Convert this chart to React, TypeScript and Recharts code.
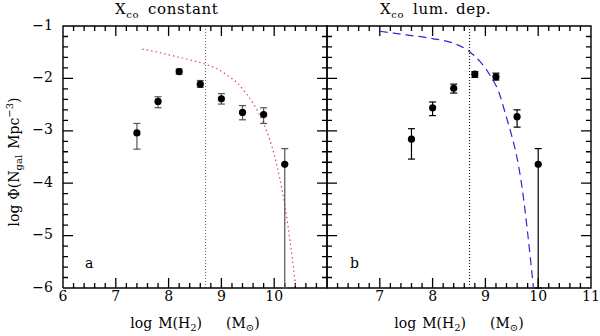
import React from "react";
import {
  ComposedChart,
  Scatter,
  Line,
  XAxis,
  YAxis,
  ErrorBar,
  ReferenceLine,
} from "recharts";

// panel a: X_CO constant
const massA = [7.4, 7.8, 8.2, 8.6, 9.0, 9.4, 9.8, 10.2];
const phiA = [-3.04, -2.44, -1.87, -2.11, -2.39, -2.65, -2.69, -3.64];
const phiHiA = [-2.86, -2.35, -1.82, -2.04, -2.29, -2.52, -2.56, -3.34];
const phiLoA = [-3.35, -2.56, -1.92, -2.17, -2.49, -2.79, -2.86, -6.0];

const fitMassA = [7.5, 7.75, 8.0, 8.25, 8.5, 8.7, 8.9, 9.1, 9.3, 9.5, 9.6, 9.7, 9.8, 9.9, 10.0, 10.1, 10.2, 10.3, 10.41];
const fitPhiA = [-1.44, -1.49, -1.55, -1.61, -1.67, -1.73, -1.81, -1.93, -2.09, -2.33, -2.47, -2.65, -2.86, -3.12, -3.45, -3.88, -4.42, -5.1, -6.0];

// panel b: X_CO luminosity dependent
const massB = [7.6, 8.0, 8.4, 8.8, 9.2, 9.6, 10.0];
const phiB = [-3.16, -2.56, -2.19, -1.92, -1.97, -2.73, -3.64];
const phiHiB = [-2.96, -2.45, -2.11, -1.87, -1.9, -2.6, -3.34];
const phiLoB = [-3.54, -2.71, -2.28, -1.98, -2.03, -2.93, -6.0];

const fitMassB = [7.0, 7.5, 8.0, 8.4, 8.7, 8.9, 9.1, 9.25, 9.4, 9.5, 9.6, 9.7, 9.8, 9.91];
const fitPhiB = [-1.1, -1.17, -1.24, -1.33, -1.49, -1.68, -1.96, -2.25, -2.75, -3.1, -3.52, -4.12, -4.95, -6.0];

const massLimit = 8.7;

const xTicks = [6.2, 6.4, 6.6, 6.8, 7, 7.2, 7.4, 7.6, 7.8, 8, 8.2, 8.4, 8.6, 8.8, 9, 9.2, 9.4, 9.6, 9.8, 10, 10.2, 10.4, 10.6, 10.8];
const yTicks = [-5.8, -5.6, -5.4, -5.2, -5, -4.8, -4.6, -4.4, -4.2, -4, -3.8, -3.6, -3.4, -3.2, -3, -2.8, -2.6, -2.4, -2.2, -2, -1.8, -1.6, -1.4, -1.2];
const xMajor = [6, 7, 8, 9, 10, 11];
const yMajor = [-6, -5, -4, -3, -2, -1];
const xLabelsA = [6, 7, 8, 9, 10];
const xLabelsB = [7, 8, 9, 10, 11];

const FONT = "'DejaVu Serif', serif";

const fmt = (v: number) => (v < 0 ? "\u2212" + Math.abs(v) : String(v));
const isMajor = (v: number) => Math.abs(v - Math.round(v)) < 1e-6;

const toPoints = (xs: number[], ys: number[], hi: number[], lo: number[]) =>
  xs.map((x, i) => ({ x, y: ys[i], err: [ys[i] - lo[i], hi[i] - ys[i]] }));
const toLine = (xs: number[], ys: number[]) => xs.map((x, i) => ({ x, y: ys[i] }));

// plot frame, and inward tick marks as separate short segments (null breaks between them)
const frameCorners = [
  { x: 6, y: -6 },
  { x: 11, y: -6 },
  { x: 11, y: -1 },
  { x: 6, y: -1 },
  { x: 6, y: -6 },
];
const tickLen = (v: number) => (isMajor(v) ? 0.19 : 0.095);
const tickSegments = [
  ...xTicks.flatMap((x) => [{ x, y: -6 }, { x, y: -6 + tickLen(x) }, { x, y: null }]),
  ...xTicks.flatMap((x) => [{ x, y: -1 }, { x, y: -1 - tickLen(x) }, { x, y: null }]),
  ...yTicks.flatMap((y) => [{ x: 6, y }, { x: 6 + tickLen(y), y }, { x: 6, y: null }]),
  ...yTicks.flatMap((y) => [{ x: 11, y }, { x: 11 - tickLen(y), y }, { x: 11, y: null }]),
];

const xLabelTick = (labels: number[]) => (props: any) => {
  const { x, y, payload } = props;
  if (!labels.some((l) => Math.abs(l - payload.value) < 1e-6)) return <g />;
  return (
    <text x={x} y={y + 13} textAnchor="middle" fontFamily={FONT} fontSize={14} fill="#000">
      {fmt(payload.value)}
    </text>
  );
};

const yLabelTick = (props: any) => {
  const { x, y, payload } = props;
  return (
    <text x={x - 10} y={y + 3.5} textAnchor="end" fontFamily={FONT} fontSize={14} fill="#000">
      {fmt(payload.value)}
    </text>
  );
};

interface PanelProps {
  points: { x: number; y: number; err: number[] }[];
  fit: { x: number; y: number }[];
  fitColor: string;
  fitDash: string;
  barColor: string;
  limitColor: string;
  xLabels: number[];
  showY: boolean;
  width: number;
  margin: { top: number; right: number; bottom: number; left: number };
}

function Panel(p: PanelProps) {
  return (
    <ComposedChart width={p.width} height={336} margin={p.margin}>
      <XAxis
        xAxisId="b"
        type="number"
        dataKey="x"
        domain={[6, 11]}
        ticks={xMajor}
        interval={0}
        height={48}
        tickSize={0}
        tickMargin={0}
        tickLine={false}
        axisLine={false}
        tick={xLabelTick(p.xLabels)}
      />
      <YAxis
        yAxisId="l"
        type="number"
        dataKey="y"
        domain={[-6, -1]}
        ticks={yMajor}
        interval={0}
        width={p.showY ? 63 : 0}
        hide={!p.showY}
        tickSize={0}
        tickMargin={0}
        tickLine={false}
        axisLine={false}
        tick={yLabelTick}
      />
      <ReferenceLine xAxisId="b" yAxisId="l" x={massLimit} stroke={p.limitColor} strokeDasharray="1 2" strokeWidth={1} />
      <Line
        xAxisId="b"
        yAxisId="l"
        data={frameCorners}
        dataKey="y"
        type="linear"
        stroke="#000"
        strokeWidth={1.4}
        dot={false}
        activeDot={false}
        isAnimationActive={false}
      />
      <Line
        xAxisId="b"
        yAxisId="l"
        data={tickSegments}
        dataKey="y"
        type="linear"
        connectNulls={false}
        stroke="#000"
        strokeWidth={1.3}
        dot={false}
        activeDot={false}
        isAnimationActive={false}
      />
      <Line
        xAxisId="b"
        yAxisId="l"
        data={p.fit}
        dataKey="y"
        type="monotone"
        stroke={p.fitColor}
        strokeDasharray={p.fitDash}
        strokeWidth={1.2}
        dot={false}
        isAnimationActive={false}
      />
      <Scatter
        xAxisId="b"
        yAxisId="l"
        data={p.points}
        dataKey="y"
        isAnimationActive={false}
        shape={(s: any) => <circle cx={s.cx} cy={s.cy} r={3.6} fill="#000" />}
      >
        <ErrorBar dataKey="err" direction="y" width={3.5} stroke={p.barColor} strokeWidth={1.2} />
      </Scatter>
    </ComposedChart>
  );
}

export default function App() {
  return (
    <div style={{ position: "absolute", left: 0, top: 0, width: 600, height: 336, background: "#fff" }}>
      <div style={{ position: "absolute", left: 0, top: 0 }}>
        <Panel
          points={toPoints(massA, phiA, phiHiA, phiLoA)}
          fit={toLine(fitMassA, fitPhiA)}
          fitColor="#e04a4a"
          fitDash="1.5 3"
          barColor="#555"
          limitColor="#666"
          xLabels={xLabelsA}
          showY={true}
          width={337}
          margin={{ top: 26, right: 10, bottom: 0, left: 0 }}
        />
      </div>
      <div style={{ position: "absolute", left: 317, top: 0 }}>
        <Panel
          points={toPoints(massB, phiB, phiHiB, phiLoB)}
          fit={toLine(fitMassB, fitPhiB)}
          fitColor="#2b2bd0"
          fitDash="8 5"
          barColor="#000"
          limitColor="#000"
          xLabels={xLabelsB}
          showY={false}
          width={283}
          margin={{ top: 26, right: 9, bottom: 0, left: 10 }}
        />
      </div>
      <svg width={600} height={336} style={{ position: "absolute", left: 0, top: 0, pointerEvents: "none" }}>
        <g fontFamily={FONT} fontSize={15} fill="#000">
          <text x={115} y={14} letterSpacing={0.6}>
            X<tspan fontSize={10} dy={4}>co</tspan>
            <tspan dy={-4} dx={9}>constant</tspan>
          </text>
          <text x={380} y={14} letterSpacing={0.6}>
            X<tspan fontSize={10} dy={4}>co</tspan>
            <tspan dy={-4} dx={9}>lum.</tspan>
            <tspan dx={7}>dep.</tspan>
          </text>
        </g>
        <g fontFamily={FONT} fontSize={14} fill="#000">
          <text x={195} y={328} textAnchor="middle">
            log<tspan dx={6}>M(H</tspan>
            <tspan fontSize={10} dy={3}>2</tspan>
            <tspan dy={-3}>)</tspan>
            <tspan dx={24}>(M</tspan>
            <tspan fontSize={10} dy={3}>⊙</tspan>
            <tspan dy={-3}>)</tspan>
          </text>
          <text x={459} y={328} textAnchor="middle">
            log<tspan dx={6}>M(H</tspan>
            <tspan fontSize={10} dy={3}>2</tspan>
            <tspan dy={-3}>)</tspan>
            <tspan dx={24}>(M</tspan>
            <tspan fontSize={10} dy={3}>⊙</tspan>
            <tspan dy={-3}>)</tspan>
          </text>
          <text transform="translate(19,162) rotate(-90)" textAnchor="middle">
            log<tspan dx={5}>Φ(N</tspan>
            <tspan fontSize={10} dy={3}>gal</tspan>
            <tspan dy={-3} dx={6}>Mpc</tspan>
            <tspan fontSize={10} dy={-6}>−3</tspan>
            <tspan dy={6}>)</tspan>
          </text>
          <text x={85} y={268}>a</text>
          <text x={350} y={268}>b</text>
        </g>
      </svg>
    </div>
  );
}
